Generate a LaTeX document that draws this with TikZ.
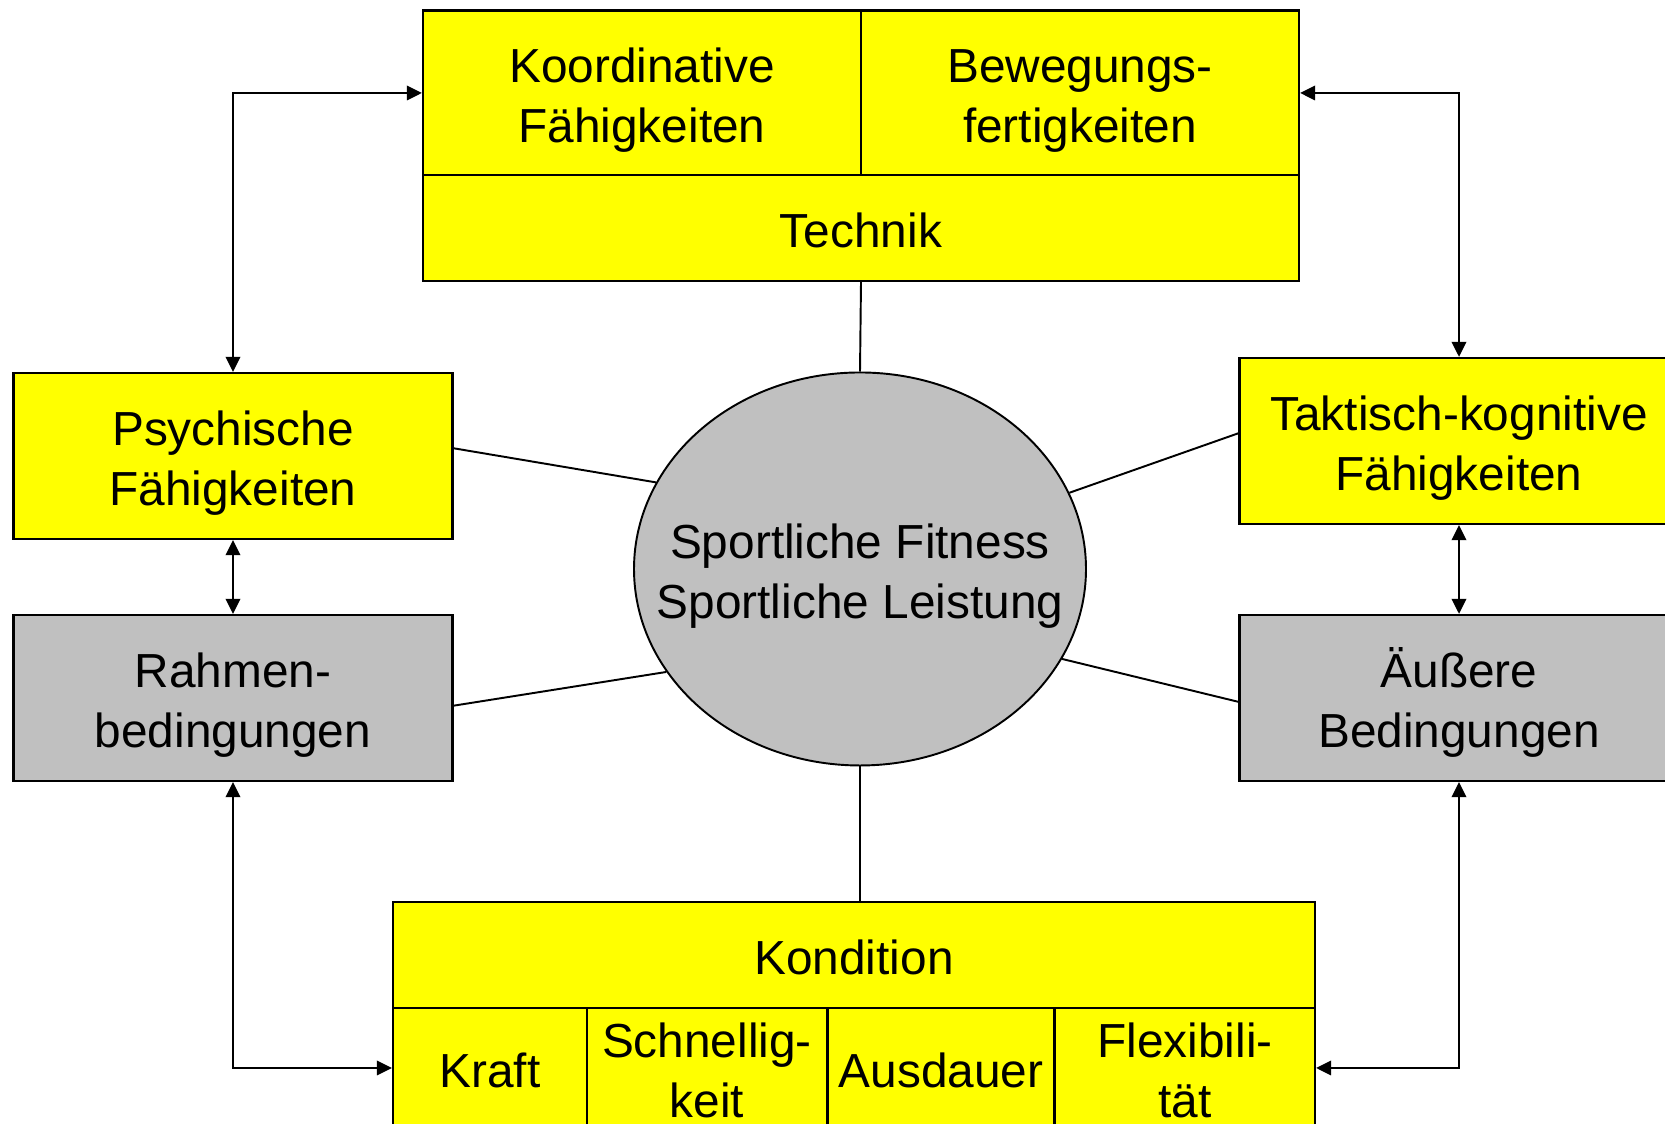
\documentclass[tikz,border=0pt]{standalone}
\usepackage{fontspec}
\setmainfont{Liberation Sans}
\usetikzlibrary{arrows.meta,shapes.geometric}
\definecolor{gelb}{RGB}{255,255,0}
\definecolor{grau}{RGB}{192,192,192}
\newcommand{\hoch}{\rule{0pt}{14.06pt}}

\begin{document}
\begin{tikzpicture}[
  every node/.style={font=\fontsize{13.6}{17}\selectfont,
    execute at begin node={\hoch},
    execute at end node={\rule[-3pt]{0pt}{3pt}}},
  cell/.style={draw, line width=0.65pt, fill=gelb, align=center, inner sep=0pt},
  box/.style={cell, minimum width=4.39cm, minimum height=1.66cm},
  greybox/.style={box, fill=grau},
  link/.style={line width=0.55pt},
  both/.style={link, {Triangle[length=1.5mm,width=1.45mm]}-{Triangle[length=1.5mm,width=1.45mm]}}
]
\clip (0,0) rectangle (16.65,11.24);

\node[cell, minimum width=4.38cm, minimum height=1.65cm] (koord) at (6.42,10.31) {\hoch Koordinative\\Fähigkeiten};
\node[cell, minimum width=4.38cm, minimum height=1.65cm] (beweg) at (10.80,10.31) {\hoch Bewegungs-\\fertigkeiten};
\node[cell, minimum width=8.76cm, minimum height=1.06cm] (technik) at (8.61,8.96) {Technik};

\node[draw, ellipse, line width=0.55pt, fill=grau, align=center, inner xsep=-0.5cm, inner ysep=0pt, minimum width=4.52cm, minimum height=3.93cm] (sport) at (8.60,5.55) {\hoch Sportliche Fitness\\Sportliche Leistung};

\node[box] (psych) at (2.33,6.68) {\hoch Psychische\\Fähigkeiten};
\node[greybox] (rahmen) at (2.33,4.26) {\hoch Rahmen-\\bedingungen};
\node[box] (takt) at (14.59,6.83) {\hoch Taktisch-kognitive\\Fähigkeiten};
\node[greybox] (aeuss) at (14.59,4.26) {\hoch Äußere\\Bedingungen};

\node[cell, minimum width=9.22cm, minimum height=1.06cm] (kond) at (8.54,1.69) {Kondition};
\node[cell, minimum width=1.94cm, minimum height=1.2cm] (kraft) at (4.90,0.56) {Kraft};
\node[cell, minimum width=2.40cm, minimum height=1.2cm] (schnell) at (7.07,0.56) {\hoch Schnellig-\\keit};
\node[cell, minimum width=2.27cm, minimum height=1.2cm] (ausd) at (9.41,0.56) {Ausdauer};
\node[cell, minimum width=2.60cm, minimum height=1.2cm] (flex) at (11.85,0.56) {\hoch Flexibili-\\tät};

\draw[link] (technik.south) -- (sport.north);
\draw[link] (sport.south) -- (sport.south |- kond.north);
\draw[link] (psych.2) -- (sport.157);
\draw[link] (rahmen.-2) -- (sport.208);
\draw[link] (takt.178) -- (sport.20);
\draw[link] (aeuss.181) -- (sport.-24);

\draw[both] (psych.north) |- (koord.west);
\draw[both] (takt.north) |- (beweg.east);
\draw[both] (psych.south) -- (rahmen.north);
\draw[both] (takt.south) -- (aeuss.north);
\draw[both] (rahmen.south) |- (kraft.west);
\draw[both] (aeuss.south) |- (flex.east);
\end{tikzpicture}
\end{document}
